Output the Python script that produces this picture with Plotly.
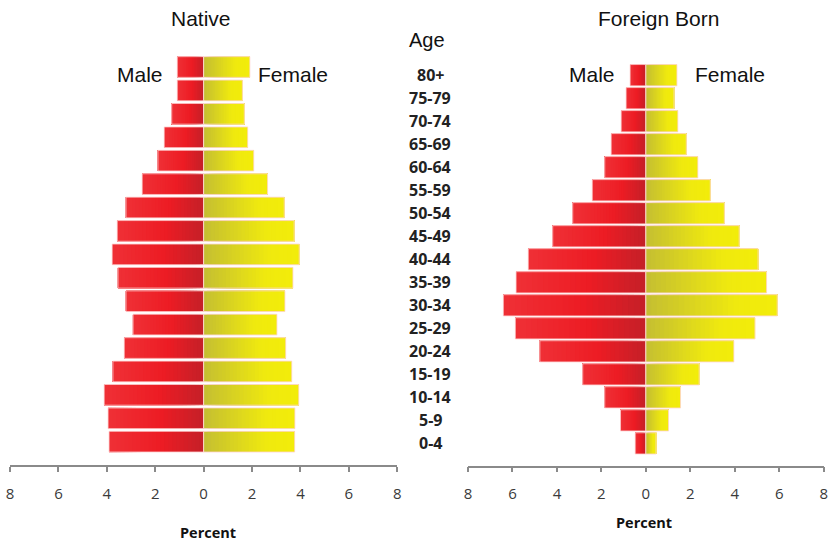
import plotly.graph_objects as go

# Age groups, youngest first
age_groups = ["0-4", "5-9", "10-14", "15-19", "20-24", "25-29", "30-34", "35-39",
              "40-44", "45-49", "50-54", "55-59", "60-64", "65-69", "70-74", "75-79", "80+"]

# Percent of population by age group
native_male = [3.91, 3.95, 4.11, 3.75, 3.28, 2.92, 3.21, 3.54, 3.78, 3.57,
               3.21, 2.54, 1.89, 1.63, 1.32, 1.09, 1.09]
native_female = [3.76, 3.77, 3.93, 3.64, 3.39, 3.03, 3.36, 3.69, 3.95, 3.74,
                 3.33, 2.64, 2.07, 1.82, 1.68, 1.60, 1.91]
foreign_male = [0.48, 1.14, 1.85, 2.84, 4.77, 5.87, 6.41, 5.84, 5.29, 4.19,
                3.29, 2.41, 1.85, 1.56, 1.11, 0.89, 0.71]
foreign_female = [0.46, 1.02, 1.56, 2.40, 3.96, 4.91, 5.91, 5.43, 5.05, 4.20,
                  3.53, 2.90, 2.34, 1.82, 1.44, 1.27, 1.40]

tick_vals = [-8, -6, -4, -2, 0, 2, 4, 6, 8]
tick_text = ["8", "6", "4", "2", "0", "2", "4", "6", "8"]

W, H = 830, 546
N_SEG = 24

# gradient stops: position measured from the centre line outward
male_stops = [(0.0, (196, 32, 40)), (0.45, (237, 28, 36)), (1.0, (239, 48, 54))]
female_stops = [(0.0, (196, 190, 50)), (0.7, (240, 234, 14)), (1.0, (242, 236, 10))]


def grad(stops, t):
    for (t0, c0), (t1, c1) in zip(stops[:-1], stops[1:]):
        if t <= t1:
            f = (t - t0) / (t1 - t0) if t1 > t0 else 0
            c = [round(a + (b - a) * f) for a, b in zip(c0, c1)]
            return f"rgb({c[0]},{c[1]},{c[2]})"
    c = stops[-1][1]
    return f"rgb({c[0]},{c[1]},{c[2]})"


fig = go.Figure()
ypos = list(range(len(age_groups)))


def add_side(values, sign, stops, xa, ya, width):
    # each layer runs from its gradient step out to the bar end; later layers sit on top
    for k in range(N_SEG):
        frac = k / N_SEG
        base = [sign * v * frac for v in values]
        length = [sign * v * (1 - frac) for v in values]
        fig.add_trace(go.Bar(
            y=ypos, x=length, base=base, orientation="h", width=width,
            marker=dict(color=grad(stops, (k + 0.5) / N_SEG), line=dict(width=0)),
            xaxis=xa, yaxis=ya, showlegend=False, hoverinfo="skip"))
    fig.add_trace(go.Bar(
        y=ypos, x=[sign * v for v in values], base=[0] * len(values), orientation="h",
        width=width,
        marker=dict(color="rgba(0,0,0,0)", line=dict(width=1, color="rgba(255,215,215,0.85)")),
        xaxis=xa, yaxis=ya, showlegend=False, hoverinfo="skip"))


add_side(native_male, -1, male_stops, "x", "y", 0.885)
add_side(native_female, 1, female_stops, "x", "y", 0.885)
add_side(foreign_male, -1, male_stops, "x2", "y2", 0.925)
add_side(foreign_female, 1, female_stops, "x2", "y2", 0.925)

axis_col = "#8a8a8a"
xcommon = dict(range=[-8, 8], tickvals=tick_vals, ticktext=tick_text, showgrid=False,
               zeroline=False, showline=True, linecolor=axis_col, linewidth=1.5,
               ticks="outside", ticklen=5, tickcolor=axis_col, tickwidth=1.5,
               ticklabelstandoff=9, automargin=False,
               tickfont=dict(family="Open Sans", size=15, color="#3a3a3a"), fixedrange=True)

fig.update_layout(
    width=W, height=H, margin=dict(l=0, r=0, t=0, b=0, autoexpand=False),
    paper_bgcolor="white", plot_bgcolor="white", barmode="overlay",
    xaxis=dict(domain=[10 / W, 397.3 / W], anchor="y", **xcommon),
    xaxis2=dict(domain=[468 / W, 823.7 / W], anchor="y2", **xcommon),
    yaxis=dict(domain=[(H - 465) / H, (H - 55.3) / H], range=[-0.995, 16.5],
               visible=False, anchor="x", automargin=False),
    yaxis2=dict(domain=[(H - 465.7) / H, (H - 63.7) / H], range=[-0.969, 16.5],
                visible=False, anchor="x2", automargin=False),
)

ann = []
title_font = dict(family="Liberation Sans", size=21, color="#111")


def px(x, y, text, font, xanchor="center"):
    ann.append(dict(x=x / W, y=(H - y) / H, xref="paper", yref="paper", text=text,
                    showarrow=False, font=font, xanchor=xanchor, yanchor="middle"))


px(201, 19, "Native", title_font)
px(658, 19, "Foreign Born", title_font)
px(140, 75, "Male", title_font)
px(293, 75, "Female", title_font)
px(592, 75, "Male", title_font)
px(729.5, 75, "Female", title_font)
px(427.5, 40, "Age", dict(family="Liberation Sans", size=20, color="#111"))

for i, g in enumerate(age_groups):
    ann.append(dict(x=430 / W, xref="paper", y=i, yref="y2", text=f"<b>{g}</b>",
                    showarrow=False, xanchor="center", yanchor="middle",
                    font=dict(family="Open Sans", size=16, color="#222")))

pct_font = dict(family="Open Sans", size=14.5, color="#111")
px(208, 532, "<b>Percent</b>", pct_font)
px(644, 522, "<b>Percent</b>", pct_font)

fig.update_layout(annotations=ann)
fig.write_html("out.html")
